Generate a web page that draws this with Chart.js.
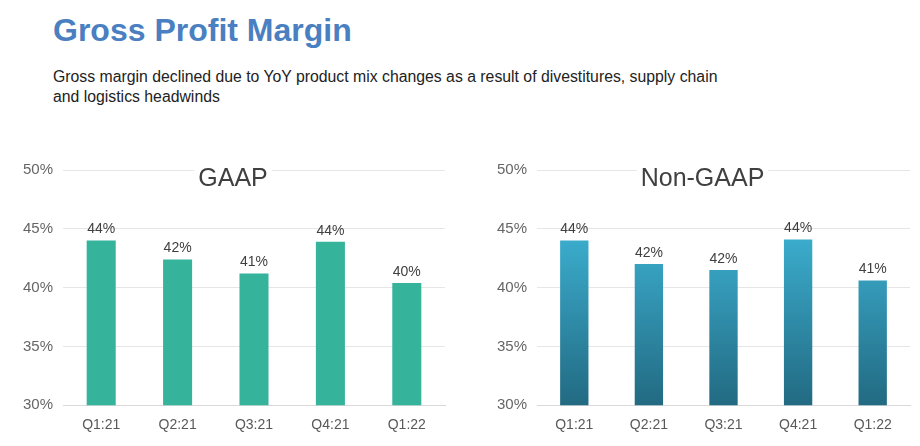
<!DOCTYPE html>
<html lang="en-us">
<head>
<meta charset="UTF-8">
<script src="https://cdn.jsdelivr.net/npm/chart.js@4"></script>
<title>Gross Profit Margin</title>
<style>
  body { margin: 0; width: 920px; height: 446px; background: #fff; font-family: "Liberation Sans", Arial, sans-serif; position: relative; overflow: hidden; }
  h1 { position: absolute; left: 53px; top: 12px; margin: 0; font-size: 32px; font-weight: bold; color: #4a7fc1; }
  p.sub { position: absolute; left: 53px; top: 67px; margin: 0; width: 720px; font-size: 15.8px; line-height: 20px; color: #222; }
  .box { position: absolute; top: 150px; width: 455px; height: 296px; }
</style>
</head>
<body>
<h1>Gross Profit Margin</h1>
<p class="sub">Gross margin declined due to YoY product mix changes as a result of divestitures, supply chain<br>and logistics headwinds</p>
<div class="box" style="left:0"><canvas id="gaap"></canvas></div>
<div class="box" style="left:465px"><canvas id="nongaap"></canvas></div>
<script>
const quarters = ["Q1:21", "Q2:21", "Q3:21", "Q4:21", "Q1:22"];
const gaapValues = [44.0, 42.4, 41.2, 43.9, 40.4];
const gaapLabels = ["44%", "42%", "41%", "44%", "40%"];
const nonGaapValues = [44.0, 42.0, 41.5, 44.1, 40.6];
const nonGaapLabels = ["44%", "42%", "42%", "44%", "41%"];

// value labels above bars + chart heading with white box
const decorate = {
  id: 'decorate',
  afterDatasetsDraw(chart, args, opts) {
    const ctx = chart.ctx;
    const meta = chart.getDatasetMeta(0);
    ctx.save();
    ctx.font = '14px "Liberation Sans", Arial, sans-serif';
    ctx.fillStyle = '#404040';
    ctx.textAlign = 'center';
    ctx.textBaseline = 'bottom';
    meta.data.forEach((bar, i) => {
      ctx.fillText(opts.labels[i], bar.x, bar.y - 4);
    });
    const a = chart.chartArea;
    ctx.font = '25px "Liberation Sans", Arial, sans-serif';
    const w = ctx.measureText(opts.heading).width;
    const cx = (a.left + a.right) / 2 - 21;
    ctx.fillStyle = '#fff';
    ctx.fillRect(cx - w / 2 - 4, a.top - 6, w + 8, 30);
    ctx.fillStyle = '#404040';
    ctx.textBaseline = 'middle';
    ctx.fillText(opts.heading, cx, a.top + 9);
    ctx.restore();
  }
};

function makeChart(id, values, labels, heading, color, yWidth) {
  return new Chart(document.getElementById(id), {
    type: 'bar',
    data: {
      labels: quarters,
      datasets: [{ data: values, backgroundColor: color, barPercentage: 0.38, categoryPercentage: 1 }]
    },
    options: {
      responsive: true,
      maintainAspectRatio: false,
      animation: false,
      layout: { padding: { top: 20, right: 10, bottom: 8 } },
      plugins: {
        legend: { display: false },
        tooltip: { enabled: false },
        decorate: { labels: labels, heading: heading }
      },
      scales: {
        x: {
          grid: { display: false },
          border: { color: '#d9d9d9' },
          ticks: { color: '#595959', font: { size: 14, family: '"Liberation Sans", Arial, sans-serif' }, padding: 4 }
        },
        y: {
          min: 30, max: 50,
          ticks: { stepSize: 5, color: '#666', font: { size: 15, family: '"Liberation Sans", Arial, sans-serif' }, callback: v => v + '%', padding: 10 },
          grid: { color: '#e6e6e6', drawTicks: false },
          border: { display: false },
          afterFit: s => { s.width = yWidth; }
        }
      }
    },
    plugins: [decorate]
  });
}

makeChart('gaap', gaapValues, gaapLabels, 'GAAP', '#35b39b', 63);
makeChart('nongaap', nonGaapValues, nonGaapLabels, 'Non-GAAP', ctx => {
  const a = ctx.chart.chartArea;
  if (!a) return '#2f8fae';
  const g = ctx.chart.ctx.createLinearGradient(0, a.top + 60, 0, a.bottom);
  g.addColorStop(0, '#3cafd0');
  g.addColorStop(1, '#226a82');
  return g;
}, 72);
</script>
</body>
</html>
